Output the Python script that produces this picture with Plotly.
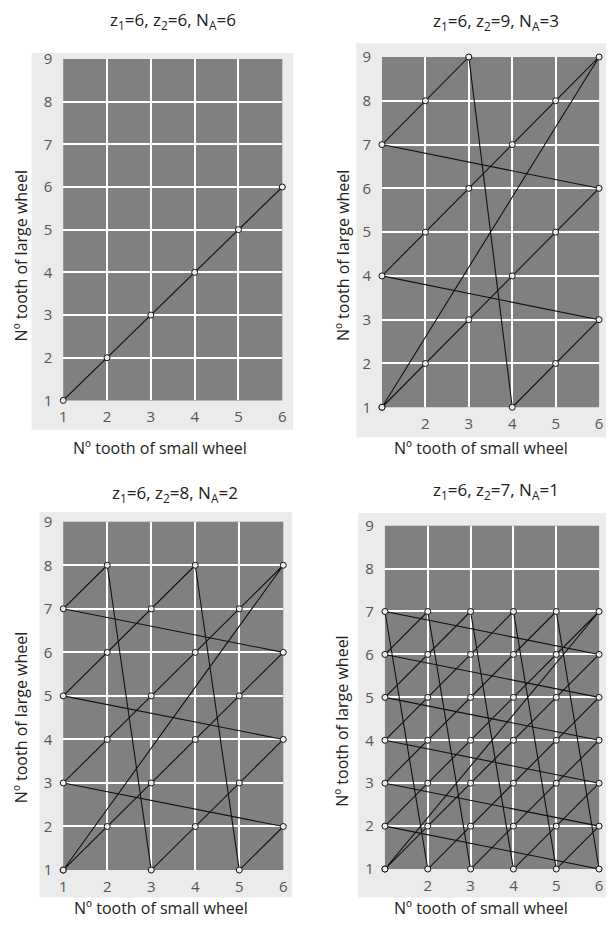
import plotly.graph_objects as go

W, H = 610, 926

# ---- data: contact sequences (small wheel tooth, large wheel tooth) ----
x_66 = [1, 2, 3, 4, 5, 6]
y_66 = [1, 2, 3, 4, 5, 6]

x_69 = [1, 2, 3, 4, 5, 6, 1, 2, 3, 4, 5, 6, 1, 2, 3, 4, 5, 6, 1]
y_69 = [1, 2, 3, 4, 5, 6, 7, 8, 9, 1, 2, 3, 4, 5, 6, 7, 8, 9, 1]

x_68 = [1, 2, 3, 4, 5, 6, 1, 2, 3, 4, 5, 6, 1, 2, 3, 4, 5, 6, 1, 2, 3, 4, 5, 6, 1]
y_68 = [1, 2, 3, 4, 5, 6, 7, 8, 1, 2, 3, 4, 5, 6, 7, 8, 1, 2, 3, 4, 5, 6, 7, 8, 1]

x_67 = [1, 2, 3, 4, 5, 6, 1, 2, 3, 4, 5, 6, 1, 2, 3, 4, 5, 6, 1, 2, 3,
        4, 5, 6, 1, 2, 3, 4, 5, 6, 1, 2, 3, 4, 5, 6, 1, 2, 3, 4, 5, 6, 1]
y_67 = [1, 2, 3, 4, 5, 6, 7, 1, 2, 3, 4, 5, 6, 7, 1, 2, 3, 4, 5, 6, 7,
        1, 2, 3, 4, 5, 6, 7, 1, 2, 3, 4, 5, 6, 7, 1, 2, 3, 4, 5, 6, 7, 1]

titles = ["z<sub>1</sub>=6, z<sub>2</sub>=6, N<sub>A</sub>=6",
          "z<sub>1</sub>=6, z<sub>2</sub>=9, N<sub>A</sub>=3",
          "z<sub>1</sub>=6, z<sub>2</sub>=8, N<sub>A</sub>=2",
          "z<sub>1</sub>=6, z<sub>2</sub>=7, N<sub>A</sub>=1"]
y_ticks = [1, 2, 3, 4, 5, 6, 7, 8, 9]
x_ticks_full = [1, 2, 3, 4, 5, 6]
x_ticks_short = [2, 3, 4, 5, 6]
x_label = "Nº tooth of small wheel"
y_label = "Nº tooth of large wheel"

series = [(x_66, y_66), (x_69, y_69), (x_68, y_68), (x_67, y_67)]

# ---- layout geometry (pixels) ----
# plot areas: left, right, top, bottom
areas = [(60, 282, 49, 398), (383, 603, 47, 405), (60, 283, 522, 878), (386, 603, 526, 877)]
panels = [(28, 293, 43, 428), (357, 610, 33, 436), (36, 292, 512, 906), (359, 610, 513, 906)]
title_pos = [(171, 10), (499, 11), (173, 493), (499, 490)]
xt_pos = [(158, 447), (483, 447), (159, 917), (483, 917)]
yt_pos = [(17, 250), (343, 250), (18, 722), (343, 726)]
xticksets = [x_ticks_full, x_ticks_short, x_ticks_full, x_ticks_short]

def px(x):
    return x / W

def py(y):
    return 1 - y / H

FONT = "Open Sans"
fig = go.Figure()
shapes = []
annotations = []
layout = {}

for i, ((xs, ys), (l, r, t, b)) in enumerate(zip(series, areas)):
    n = "" if i == 0 else str(i + 1)
    fig.add_trace(go.Scatter(
        x=xs, y=ys, mode="lines+markers",
        xaxis="x" + n, yaxis="y" + n,
        line=dict(color="#111111", width=1.1),
        marker=dict(symbol="circle", size=6, color="#eeeeee",
                    line=dict(color="#111111", width=1)),
        showlegend=False, cliponaxis=False, hoverinfo="x+y"))
    layout["xaxis" + n] = dict(
        domain=[px(l), px(r)], range=[1, 6], anchor="y" + n,
        tickvals=xticksets[i], showgrid=True, gridcolor="white", gridwidth=1.5,
        zeroline=False, showline=False, ticks="", ticklabelstandoff=6,
        tickfont=dict(family=FONT, size=15, color="#555555"))
    layout["yaxis" + n] = dict(
        domain=[py(b), py(t)], range=[1, 9], anchor="x" + n,
        tickvals=y_ticks, showgrid=True, gridcolor="white", gridwidth=1.5,
        zeroline=False, showline=False, ticks="", ticklabelstandoff=10,
        tickfont=dict(family=FONT, size=15, color="#555555"))
    # plot background
    shapes.append(dict(type="rect", xref="paper", yref="paper", layer="below",
                       x0=px(l), x1=px(r), y0=py(b), y1=py(t),
                       fillcolor="#808080", line=dict(width=0)))
    # light panel
    pl, pr, pt, pb = panels[i]
    shapes.insert(0, dict(type="rect", xref="paper", yref="paper", layer="below",
                          x0=px(pl), x1=px(pr), y0=py(pb), y1=py(pt),
                          fillcolor="#ebebeb", line=dict(width=0)))
    tx, ty = title_pos[i]
    annotations.append(dict(text=titles[i], x=px(tx), y=py(ty), xref="paper", yref="paper",
                            showarrow=False, xanchor="center", yanchor="middle",
                            font=dict(family=FONT, size=17, color="#222222")))
    ax_, ay_ = xt_pos[i]
    annotations.append(dict(text=x_label, x=px(ax_), y=py(ay_), xref="paper", yref="paper",
                            showarrow=False, xanchor="center", yanchor="middle",
                            font=dict(family=FONT, size=16, color="#222222")))
    bx, by = yt_pos[i]
    annotations.append(dict(text=y_label, x=px(bx), y=py(by), xref="paper", yref="paper",
                            showarrow=False, xanchor="center", yanchor="middle", textangle=-90,
                            font=dict(family=FONT, size=16, color="#222222")))

fig.update_layout(
    width=W, height=H, margin=dict(l=0, r=0, t=0, b=0),
    paper_bgcolor="white", plot_bgcolor="rgba(0,0,0,0)",
    shapes=shapes, annotations=annotations, **layout)

fig.write_html("out.html", config={"displayModeBar": False},
               post_script="document.body.style.margin='0';document.body.style.overflow='hidden';")
